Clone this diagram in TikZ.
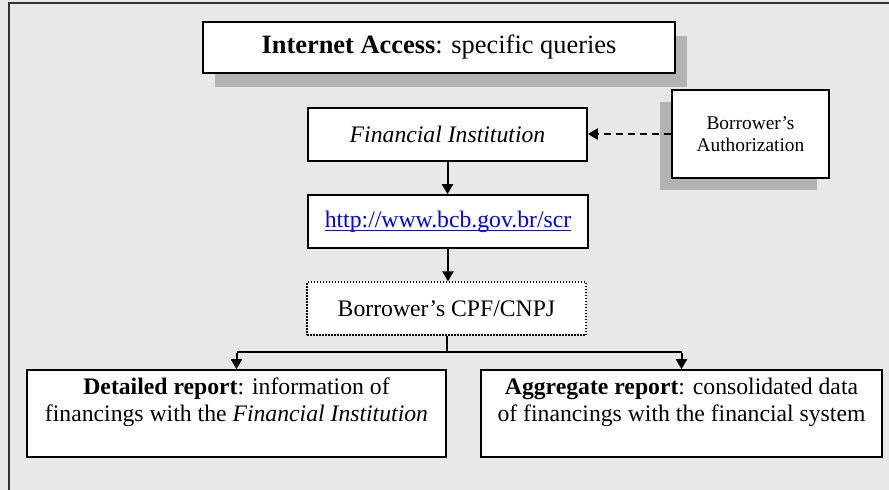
\documentclass[tikz,border=0pt]{standalone}
\usepackage{fontspec}
\setmainfont{Liberation Serif}
\usetikzlibrary{arrows.meta,shadows}
\definecolor{bgc}{RGB}{232,232,232}
\definecolor{shc}{RGB}{179,179,179}
\definecolor{linkc}{RGB}{0,0,255}
\newcommand\ulinkx[1]{\setbox0\hbox{#1}\rlap{\color{linkc}\rule[-4pt]{\wd0}{1.6pt}}\box0}
\tikzset{
  box/.style={draw=black, line width=1.6pt, fill=white, inner sep=0pt, align=center,
    font=\fontsize{23.7}{27.3}\selectfont},
  shadowr/.style={drop shadow={shadow xshift=12pt, shadow yshift=-14pt, fill=shc, opacity=1}},
  shadowl/.style={drop shadow={shadow xshift=-12pt, shadow yshift=-12pt, fill=shc, opacity=1}},
  conn/.style={line width=2pt, -{Triangle[length=10pt,width=11pt]}},
  plain/.style={line width=2pt},
}
\begin{document}
\begin{tikzpicture}[x=1pt,y=-1pt]
\fill[bgc] (0,0) rectangle (889,490);
\useasboundingbox (0,0) rectangle (889,490);
\draw[line width=1.6pt, draw=black!80] (9,490) -- (9,3) -- (889,3);

\node[box, shadowr, minimum width=472pt, minimum height=51pt, font=\fontsize{26.4}{30}\selectfont]
  (ia) at (439,47.5) {\textbf{Internet Access}: specific queries};
\node[box, minimum width=279pt, minimum height=53pt] (fi) at (447.5,134.5) {\textit{Financial Institution}};
\node[box, shadowl, minimum width=157pt, minimum height=88pt, font=\fontsize{19.4}{22.3}\selectfont]
  (auth) at (750.5,134) {Borrower’s\\Authorization};
\node[box, minimum width=280pt, minimum height=53pt] (url) at (448,221.5) {\color{linkc}\ulinkx{http://www.bcb.gov.br/scr}};
\node[box, line width=1.3pt, dash pattern=on 1.5pt off 1.5pt, minimum width=279pt, minimum height=53pt]
  (cpf) at (446.5,308.5) {Borrower’s CPF/CNPJ};
\node[box, minimum width=419pt, minimum height=87pt] (det) at (236.5,413.5)
  {\textbf{Detailed report}: information of\\financings with the \textit{Financial Institution}\\\mbox{}};
\node[box, minimum width=401pt, minimum height=87pt] (agg) at (681.5,413.5)
  {\textbf{Aggregate report}: consolidated data\\of financings with the financial system\\\mbox{}};

\coordinate (j) at (446.5,352);
\coordinate (jl) at (236.5,352);
\coordinate (jr) at (681.5,352);

\draw[conn, dash pattern=on 7pt off 5pt] (auth.west) -- (auth.west -| fi.east);
\draw[conn] (fi.south) -- (url.north -| fi.south);
\draw[conn] (url.south) -- (cpf.north -| url.south);
\draw[plain] (cpf.south) -- (j);
\draw[line width=2pt] (jl) -- (jr);
\draw[conn] ([yshift=-1pt]jl) -- (det.north);
\draw[conn] ([yshift=-1pt]jr) -- (agg.north);
\end{tikzpicture}
\end{document}
